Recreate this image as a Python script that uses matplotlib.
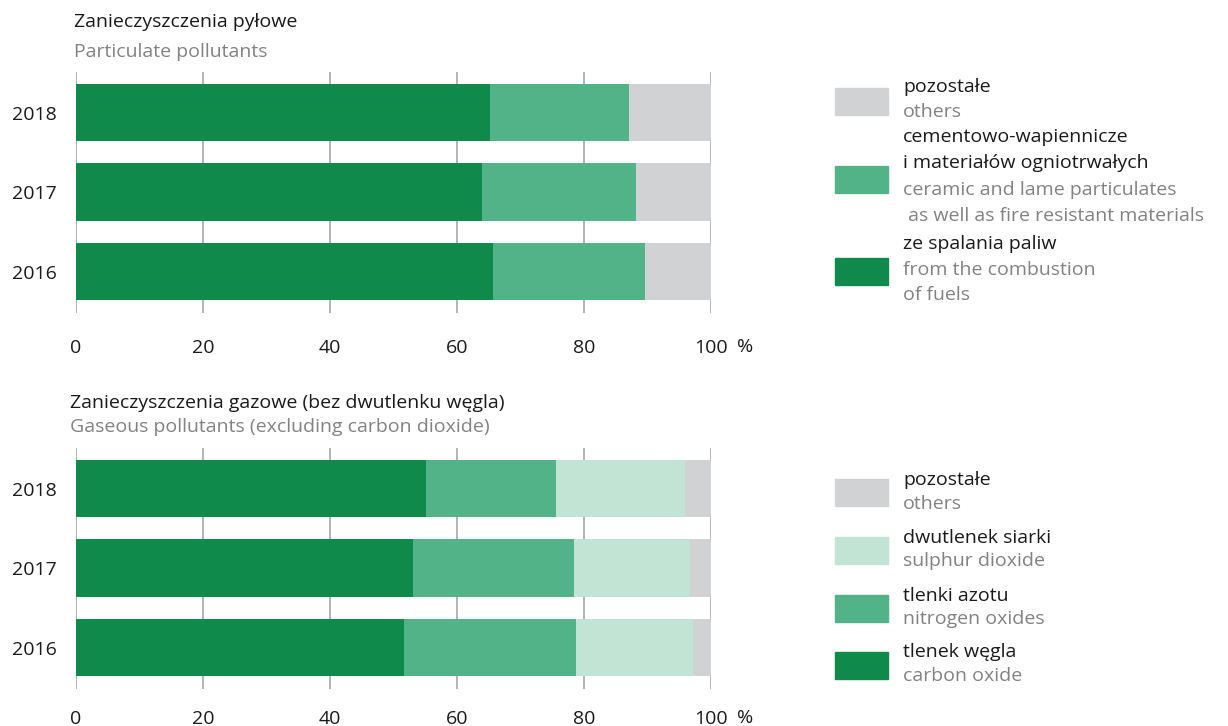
import numpy as np
import matplotlib.pyplot as plt
from matplotlib.patches import Rectangle

plt.rcParams['font.family'] = ['Open Sans', 'DejaVu Sans']

years = ["2016", "2017", "2018"]
ticks = [0, 20, 40, 60, 80, 100]

# particulate pollutants (%), order 2016, 2017, 2018
pm_fuels = [65.7, 63.9, 65.2]
pm_cement = [23.9, 24.3, 21.9]
pm_others = [10.4, 11.8, 12.9]

# gaseous pollutants (%)
gas_co = [51.7, 53.1, 55.1]
gas_nox = [27.0, 25.3, 20.5]
gas_so2 = [18.5, 18.3, 20.3]
gas_others = [2.8, 3.3, 4.1]

C_DARK = "#108a4b"
C_MED = "#52b389"
C_LIGHT = "#c2e4d5"
C_GRAY = "#d1d2d4"
T_BLACK = "#1a1a1a"
T_GRAY = "#828282"
FS = 14

W, H = 1228, 726
fig = plt.figure(figsize=(W / 100, H / 100), dpi=100)


def fx(px):
    return px / W


def fy(py):
    return 1 - py / H


def stacked(ax, series, colors, xpad, pct_y):
    y = np.arange(len(years))
    left = np.zeros(len(years))
    for vals, col in zip(series, colors):
        ax.barh(y, vals, left=left, height=0.72, color=col, zorder=2)
        left += np.array(vals)
    ax.set_xlim(0, 100)
    ax.set_ylim(-0.52, 2.51)
    ax.set_yticks(y)
    ax.set_yticklabels(years, fontsize=FS, color=T_BLACK)
    ax.set_xticks(ticks)
    ax.set_xticklabels([str(t) for t in ticks], fontsize=FS, color=T_BLACK)
    ax.tick_params(axis='x', length=0, pad=xpad)
    ax.tick_params(axis='y', length=0, pad=14)
    ax.grid(axis='x', color="#b3b3b3", lw=1.4, zorder=0)
    ax.set_axisbelow(True)
    for s in ax.spines.values():
        s.set_visible(False)
    ax.text(105.4, pct_y, "%", transform=ax.get_xaxis_transform(),
            fontsize=FS, color=T_BLACK, ha='center', va='center')


ax1 = fig.add_axes([fx(76), fy(313), fx(635), 241 / H])
stacked(ax1, [pm_fuels, pm_cement, pm_others], [C_DARK, C_MED, C_GRAY],
        19, -0.141)

ax2 = fig.add_axes([fx(76), fy(689), fx(635), 241 / H])
stacked(ax2, [gas_co, gas_nox, gas_so2, gas_others],
        [C_DARK, C_MED, C_LIGHT, C_GRAY], 15, -0.12)

# titles
fig.text(fx(74), fy(22), "Zanieczyszczenia pyłowe", fontsize=FS,
         color=T_BLACK, va='center')
fig.text(fx(74), fy(52), "Particulate pollutants", fontsize=FS,
         color=T_GRAY, va='center')
fig.text(fx(70), fy(403), "Zanieczyszczenia gazowe (bez dwutlenku węgla)",
         fontsize=FS, color=T_BLACK, va='center')
fig.text(fx(70), fy(427), "Gaseous pollutants (excluding carbon dioxide)",
         fontsize=FS, color=T_GRAY, va='center')


def legend_item(patch_top, color, lines):
    fig.patches.append(Rectangle((fx(835), fy(patch_top + 27)), fx(53), 27 / H,
                                 color=color, transform=fig.transFigure))
    for (txt, py, gray) in lines:
        fig.text(fx(903), fy(py), txt, fontsize=FS,
                 color=T_GRAY if gray else T_BLACK, va='center')


legend_item(88, C_GRAY, [("pozostałe", 87, False), ("others", 112, True)])
legend_item(166, C_MED, [("cementowo-wapiennicze", 137, False),
                         ("i materiałów ogniotrwałych", 163, False),
                         ("ceramic and lame particulates", 190, True),
                         (" as well as fire resistant materials", 216, True)])
legend_item(258, C_DARK, [("ze spalania paliw", 244, False),
                          ("from the combustion", 270, True),
                          ("of fuels", 295, True)])

legend_item(479, C_GRAY, [("pozostałe", 480, False), ("others", 504, True)])
legend_item(537, C_LIGHT, [("dwutlenek siarki", 538, False),
                           ("sulphur dioxide", 561, True)])
legend_item(595, C_MED, [("tlenki azotu", 596, False),
                         ("nitrogen oxides", 619, True)])
legend_item(652, C_DARK, [("tlenek węgla", 652, False),
                          ("carbon oxide", 676, True)])

fig.savefig("out.png", dpi=100)
